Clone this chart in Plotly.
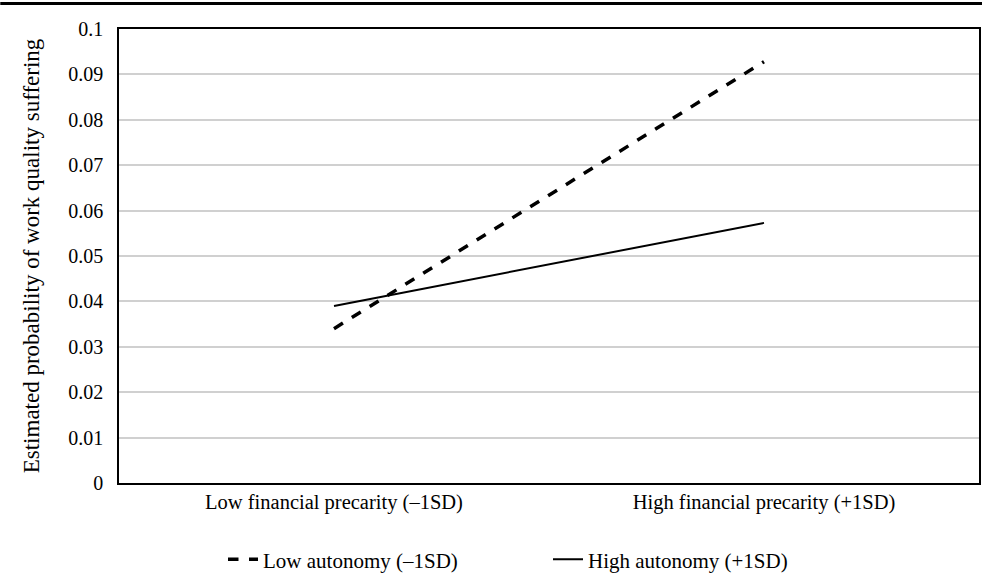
import plotly.graph_objects as go

categories = ["Low financial precarity (–1SD)", "High financial precarity (+1SD)"]
low_autonomy = [0.034, 0.0928]
high_autonomy = [0.039, 0.0573]
y_ticks = [0, 0.01, 0.02, 0.03, 0.04, 0.05, 0.06, 0.07, 0.08, 0.09, 0.1]
y_tick_labels = ["0", "0.01", "0.02", "0.03", "0.04", "0.05", "0.06", "0.07", "0.08", "0.09", "0.1"]

font = "Liberation Serif"

fig = go.Figure()
fig.add_trace(go.Scatter(x=categories, y=low_autonomy, mode="lines",
                         name="Low autonomy (–1SD)",
                         line=dict(color="black", width=3.5, dash="dash")))
fig.add_trace(go.Scatter(x=categories, y=high_autonomy, mode="lines",
                         name="High autonomy (+1SD)",
                         line=dict(color="black", width=2)))

W, H = 984, 583
ml, mr, mt, mb = 119, 3, 29, 98
pw = W - ml - mr
ph = H - mt - mb

fig.update_layout(
    width=W, height=H,
    margin=dict(l=ml, r=mr, t=mt, b=mb),
    paper_bgcolor="white", plot_bgcolor="white",
    font=dict(family=font, size=20, color="black"),
    showlegend=True,
    legend=dict(orientation="h", x=0.5 - 1 / pw, xanchor="center", y=(485 - 562) / ph, yanchor="middle",
                font=dict(family=font, size=21), entrywidth=280, entrywidthmode="pixels",
                tracegroupgap=0),
    xaxis=dict(type="category", range=[-0.5, 1.5], showgrid=False,
               showline=True, linecolor="black", linewidth=1.5, mirror=True,
               ticks="", tickfont=dict(family=font, size=20.5)),
    yaxis=dict(range=[0, 0.1], tickvals=y_ticks, ticktext=y_tick_labels,
               showgrid=True, gridcolor="#d0d0d0", gridwidth=1.5,
               showline=True, linecolor="black", linewidth=1.5, mirror=True,
               ticks="", zeroline=False, tickfont=dict(family=font, size=20),
               ticklabelstandoff=10,
               title=dict(text="Estimated probability of work quality suffering",
                          font=dict(family=font, size=23), standoff=22)),
    shapes=[dict(type="line", xref="paper", yref="paper",
                 x0=-ml / pw, x1=(W - ml) / pw,
                 y0=(ph + mt - 3.5) / ph, y1=(ph + mt - 3.5) / ph,
                 line=dict(color="black", width=3))],
)

fig.write_html("out.html", post_script="document.body.style.margin='0';",
               config={"displayModeBar": False})
